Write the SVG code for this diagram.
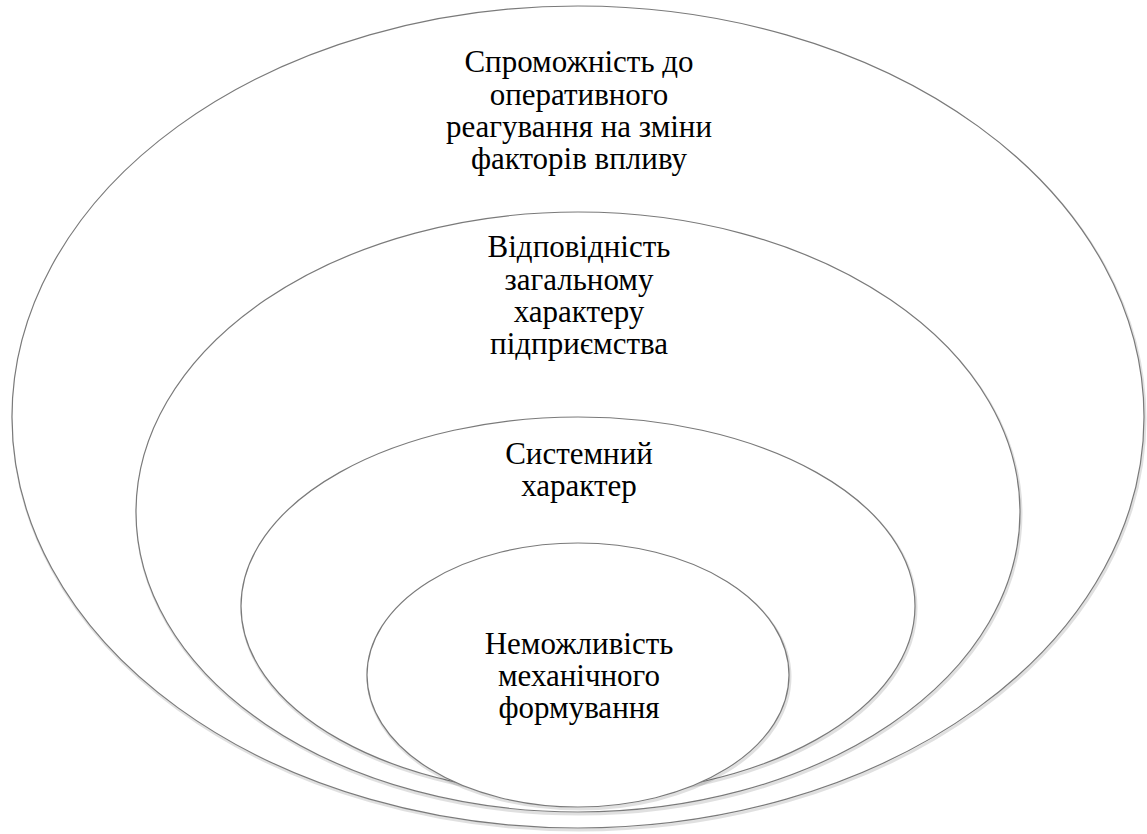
<svg xmlns="http://www.w3.org/2000/svg" width="1147" height="834" viewBox="0 0 1147 834">
<rect width="1147" height="834" fill="#fff"/>
<g id="n1">
<ellipse cx="579" cy="419" rx="566" ry="411" fill="none" stroke="#000" stroke-opacity="0.12" stroke-width="3"/>
<ellipse cx="578" cy="417" rx="566" ry="411" fill="#fff" stroke="#7a7a7a" stroke-width="1.2"/>
<text x="579" y="72" font-family="Times New Roman, Liberation Serif, serif" font-size="31" text-anchor="middle">Спроможність до</text>
<text x="579" y="105" font-family="Times New Roman, Liberation Serif, serif" font-size="31" text-anchor="middle">оперативного</text>
<text x="579" y="137" font-family="Times New Roman, Liberation Serif, serif" font-size="31" text-anchor="middle">реагування на зміни</text>
<text x="579" y="169" font-family="Times New Roman, Liberation Serif, serif" font-size="31" text-anchor="middle">факторів впливу</text>
</g>
<g id="n2">
<ellipse cx="579" cy="514" rx="442" ry="300" fill="none" stroke="#000" stroke-opacity="0.12" stroke-width="3"/>
<ellipse cx="578" cy="512" rx="442" ry="300" fill="#fff" stroke="#7a7a7a" stroke-width="1.2"/>
<text x="579" y="257" font-family="Times New Roman, Liberation Serif, serif" font-size="31" text-anchor="middle">Відповідність</text>
<text x="579" y="290" font-family="Times New Roman, Liberation Serif, serif" font-size="31" text-anchor="middle">загальному</text>
<text x="579" y="322" font-family="Times New Roman, Liberation Serif, serif" font-size="31" text-anchor="middle">характеру</text>
<text x="579" y="354" font-family="Times New Roman, Liberation Serif, serif" font-size="31" text-anchor="middle">підприємства</text>
</g>
<g id="n3">
<ellipse cx="579" cy="608" rx="337" ry="189" fill="none" stroke="#000" stroke-opacity="0.12" stroke-width="3"/>
<ellipse cx="578" cy="606" rx="337" ry="189" fill="#fff" stroke="#7a7a7a" stroke-width="1.2"/>
<text x="579" y="464" font-family="Times New Roman, Liberation Serif, serif" font-size="31" text-anchor="middle">Системний</text>
<text x="579" y="496" font-family="Times New Roman, Liberation Serif, serif" font-size="31" text-anchor="middle">характер</text>
</g>
<g id="n4">
<ellipse cx="579" cy="677" rx="211" ry="132" fill="none" stroke="#000" stroke-opacity="0.12" stroke-width="3"/>
<ellipse cx="578" cy="675" rx="211" ry="132" fill="#fff" stroke="#7a7a7a" stroke-width="1.2"/>
<text x="579" y="654" font-family="Times New Roman, Liberation Serif, serif" font-size="31" text-anchor="middle">Неможливість</text>
<text x="579" y="686" font-family="Times New Roman, Liberation Serif, serif" font-size="31" text-anchor="middle">механічного</text>
<text x="579" y="718" font-family="Times New Roman, Liberation Serif, serif" font-size="31" text-anchor="middle">формування</text>
</g>
<g id="connectors"/>
</svg>
